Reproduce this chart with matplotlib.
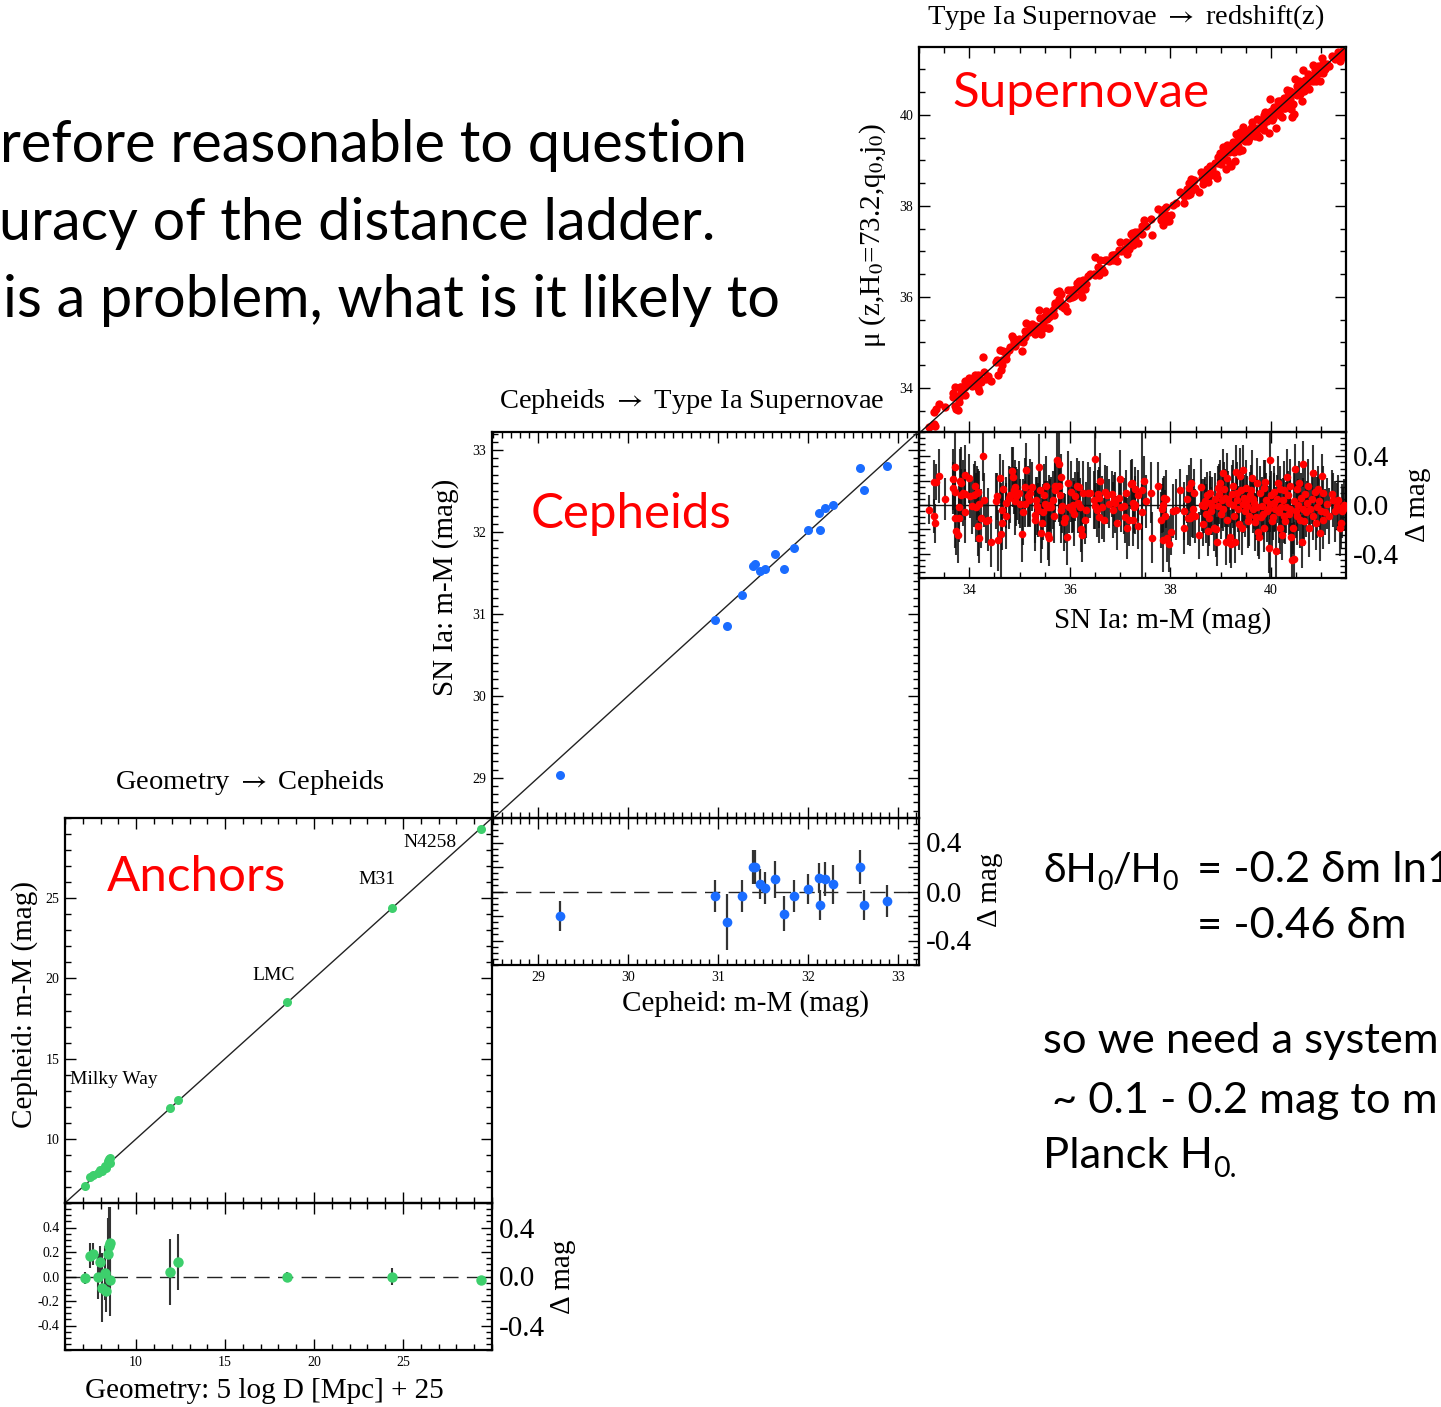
import matplotlib
matplotlib.use("Agg")
import matplotlib.pyplot as plt
from matplotlib.ticker import MultipleLocator, FixedLocator, FormatStrFormatter
import numpy as np

W, H = 1441, 1407
SERIF = ['Liberation Serif', 'DejaVu Serif']
SANS = ['Lato', 'Noto Sans', 'DejaVu Sans']

plt.rcParams['font.family'] = SERIF
plt.rcParams['axes.unicode_minus'] = False
plt.rcParams['mathtext.fontset'] = 'stix'

# ---- rung 1: geometric anchors (5 log D + 25) and Cepheid residuals ----
anchor_geo = [7.10, 7.42, 7.55, 7.85, 7.95, 8.10, 8.25, 8.30, 8.42, 8.50,
              8.55, 8.55, 11.88, 12.33, 18.50, 24.36, 29.37]
anchor_resid = [-0.01, 0.17, 0.18, 0.00, 0.12, -0.09, 0.03, -0.12, 0.18, 0.25,
                0.27, -0.03, 0.04, 0.12, 0.00, 0.00, -0.03]
anchor_err = [0.05, 0.10, 0.09, 0.18, 0.13, 0.28, 0.22, 0.17, 0.30, 0.32,
              0.30, 0.29, 0.27, 0.23, 0.04, 0.07, 0.03]
anchor_names = ['Milky Way', 'LMC', 'M31', 'N4258']

# ---- rung 2: Cepheid distance vs SN Ia distance in the calibrator hosts ----
ceph_mu = [29.24, 30.97, 31.10, 31.27, 31.39, 31.41, 31.46, 31.52, 31.63, 31.73,
           31.84, 32.00, 32.12, 32.13, 32.19, 32.27, 32.58, 32.62, 32.88]
ceph_sn_mu = [29.04, 30.93, 30.85, 31.23, 31.59, 31.61, 31.52, 31.55, 31.73, 31.55,
              31.80, 32.02, 32.23, 32.02, 32.29, 32.33, 32.78, 32.51, 32.80]
ceph_err = [0.12, 0.13, 0.23, 0.13, 0.14, 0.14, 0.12, 0.13, 0.15, 0.14,
            0.13, 0.12, 0.125, 0.12, 0.14, 0.16, 0.14, 0.12, 0.13]

# ---- rung 3: Hubble-flow SNe Ia ----
sn_mu = np.array([
    33.19, 33.29, 33.31, 33.29, 33.34, 33.40, 33.52, 33.67, 33.71, 33.67,
    33.72, 33.71, 33.74, 33.77, 33.79, 33.82, 33.84, 33.84, 33.87, 33.80,
    33.91, 33.92, 33.91, 33.99, 34.02, 34.05, 34.09, 34.12, 34.13, 34.15,
    34.17, 34.17, 34.19, 34.20, 34.24, 34.28, 34.30, 34.33, 34.37, 34.44,
    34.53, 34.55, 34.57, 34.62, 34.64, 34.65, 34.66, 34.68, 34.72, 34.73,
    34.78, 34.81, 34.85, 34.86, 34.88, 34.90, 34.91, 34.93, 34.95, 34.98,
    35.01, 35.05, 35.06, 35.10, 35.11, 35.13, 35.17, 35.19, 35.21, 35.25,
    35.30, 35.31, 35.32, 35.34, 35.36, 35.39, 35.41, 35.42, 35.44, 35.46,
    35.48, 35.50, 35.52, 35.54, 35.56, 35.58, 35.59, 35.61, 35.63, 35.66,
    35.68, 35.70, 35.71, 35.74, 35.79, 35.79, 35.81, 35.83, 35.83, 35.85,
    35.89, 35.91, 35.94, 35.97, 35.99, 36.03, 36.04, 36.07, 36.09, 36.11,
    36.14, 36.16, 36.19, 36.21, 36.23, 36.24, 36.27, 36.30, 36.32, 36.36,
    36.40, 36.47, 36.49, 36.50, 36.54, 36.56, 36.57, 36.60, 36.58, 36.64,
    36.67, 36.70, 36.74, 36.77, 36.83, 36.85, 36.87, 36.90, 36.93, 36.97,
    37.00, 37.02, 37.07, 37.10, 37.11, 37.13, 37.17, 37.22, 37.25, 37.28,
    37.23, 37.25, 37.30, 37.30, 37.35, 37.35, 37.43, 37.43, 37.48, 37.52,
    37.61, 37.63, 37.76, 37.81, 37.83, 37.85, 37.86, 37.88, 37.90, 37.92,
    37.94, 37.98, 38.01, 38.06, 38.11, 38.18, 38.26, 38.27, 38.33, 38.34,
    38.36, 38.38, 38.41, 38.43, 38.45, 38.46, 38.49, 38.56, 38.60, 38.62,
    38.64, 38.66, 38.69, 38.71, 38.72, 38.74, 38.76, 38.78, 38.79, 38.80,
    38.82, 38.86, 38.89, 38.91, 38.92, 38.94, 38.95, 38.97, 38.99, 39.00,
    39.02, 39.04, 39.05, 39.07, 39.09, 39.11, 39.12, 39.13, 39.15, 39.17,
    39.19, 39.20, 39.22, 39.24, 39.25, 39.27, 39.29, 39.31, 39.32, 39.33,
    39.35, 39.37, 39.39, 39.40, 39.42, 39.44, 39.45, 39.46, 39.48, 39.50,
    39.52, 39.53, 39.55, 39.57, 39.58, 39.60, 39.62, 39.64, 39.65, 39.66,
    39.68, 39.70, 39.72, 39.73, 39.75, 39.77, 39.78, 39.80, 39.82, 39.84,
    39.85, 39.86, 39.88, 39.90, 39.92, 39.93, 39.95, 39.97, 39.98, 40.00,
    40.01, 40.03, 40.05, 40.06, 40.08, 40.10, 40.11, 40.13, 40.15, 40.17,
    40.18, 40.19, 40.21, 40.23, 40.25, 40.26, 40.28, 40.30, 40.31, 40.33,
    40.35, 40.37, 40.38, 40.39, 40.41, 40.43, 40.45, 40.46, 40.48, 40.50,
    40.51, 40.52, 40.54, 40.56, 40.58, 40.59, 40.61, 40.63, 40.64, 40.66,
    40.68, 40.70, 40.71, 40.74, 40.76, 40.78, 40.81, 40.83, 40.84, 40.88,
    40.90, 40.91, 40.94, 40.96, 40.97, 40.99, 41.01, 41.03, 41.04, 41.07,
    41.11, 41.16, 41.21, 41.24, 41.27, 41.31, 41.34, 41.37, 41.39, 41.41,
    41.44, 41.46,
])
sn_resid = np.array([
    -0.04, -0.09, -0.15, 0.19, 0.19, 0.24, 0.05, 0.21, 0.31, 0.14,
    0.11, -0.11, -0.21, -0.25, -0.02, 0.20, 0.18, 0.08, 0.10, -0.11,
    0.25, 0.09, -0.06, 0.22, 0.07, -0.01, 0.08, 0.16, -0.02, 0.10,
    0.11, -0.17, -0.27, 0.01, -0.11, 0.40, 0.04, -0.13, -0.12, -0.30,
    0.03, 0.07, -0.29, 0.22, -0.24, -0.15, -0.04, 0.13, -0.09, 0.02,
    0.06, 0.08, 0.28, 0.23, 0.12, 0.03, 0.15, 0.07, 0.09, 0.10,
    0.01, -0.24, -0.06, 0.01, 0.15, 0.29, 0.07, 0.04, 0.10, 0.15,
    -0.08, -0.12, 0.04, -0.01, -0.04, 0.31, 0.12, -0.23, -0.15, -0.06,
    0.08, 0.01, 0.16, -0.02, -0.25, -0.02, -0.27, 0.00, -0.02, 0.04,
    -0.09, 0.12, 0.16, 0.37, 0.34, 0.16, 0.08, 0.23, -0.04, -0.01,
    -0.14, -0.11, -0.26, 0.18, -0.02, 0.11, -0.04, 0.00, -0.07, 0.07,
    0.16, 0.02, 0.15, -0.02, -0.20, -0.25, 0.10, -0.12, -0.04, 0.10,
    0.10, 0.04, 0.38, -0.01, -0.04, 0.09, 0.06, 0.20, -0.10, -0.02,
    -0.12, 0.11, 0.08, 0.01, 0.09, -0.04, 0.04, 0.02, -0.15, 0.06,
    0.21, -0.02, -0.01, -0.10, 0.10, -0.19, -0.12, 0.17, 0.02, -0.02,
    0.18, -0.12, 0.13, 0.00, 0.08, -0.17, 0.12, -0.06, 0.20, 0.03,
    0.10, -0.27, 0.16, -0.12, -0.03, 0.00, -0.29, 0.06, -0.09, 0.05,
    -0.27, -0.32, -0.22, -0.05, -0.04, 0.12, -0.19, -0.05, 0.05, -0.11,
    0.14, -0.11, 0.18, -0.08, -0.03, 0.10, -0.09, -0.25, 0.15, 0.00,
    -0.16, -0.01, 0.03, -0.07, 0.08, -0.21, -0.11, 0.10, 0.02, -0.05,
    -0.01, -0.19, 0.05, -0.20, -0.30, 0.14, -0.01, 0.09, 0.18, -0.07,
    0.04, 0.26, -0.03, 0.13, 0.06, -0.30, 0.22, -0.12, 0.05, 0.02,
    -0.26, -0.32, 0.09, 0.00, 0.16, -0.09, -0.30, 0.27, 0.04, 0.10,
    -0.03, -0.16, 0.24, 0.12, -0.19, 0.29, 0.01, 0.06, -0.05, 0.14,
    0.04, -0.01, -0.13, -0.09, 0.08, 0.12, 0.22, -0.03, 0.05, 0.02,
    -0.14, -0.10, 0.18, -0.02, -0.22, -0.26, 0.10, -0.10, -0.01, -0.07,
    0.14, -0.19, 0.19, 0.04, -0.05, -0.03, -0.35, 0.01, 0.37, 0.08,
    -0.13, -0.10, 0.02, 0.11, -0.03, -0.38, 0.05, 0.18, -0.06, 0.13,
    -0.19, -0.02, -0.25, 0.04, -0.09, 0.12, -0.13, -0.02, 0.23, 0.08,
    -0.07, 0.16, -0.03, -0.26, -0.45, -0.19, 0.03, -0.44, 0.30, -0.05,
    0.13, -0.09, 0.00, 0.18, -0.12, 0.06, -0.30, -0.03, 0.34, -0.13,
    0.09, -0.06, 0.02, 0.16, -0.19, -0.03, 0.05, 0.26, -0.09, 0.11,
    -0.15, -0.02, 0.13, 0.03, -0.23, -0.05, 0.24, 0.10, -0.12, -0.06,
    0.01, -0.09, 0.09, 0.04, -0.05, -0.01, 0.04, -0.19, -0.15, -0.05,
    -0.03, 0.00,
])
sn_err = np.array([
    0.12, 0.14, 0.16, 0.18, 0.15, 0.22, 0.17, 0.25, 0.28, 0.21,
    0.19, 0.24, 0.20, 0.23, 0.18, 0.26, 0.30, 0.22, 0.27, 0.19,
    0.24, 0.21, 0.25, 0.20, 0.18, 0.23, 0.26, 0.20, 0.28, 0.22,
    0.19, 0.25, 0.21, 0.27, 0.24, 0.20, 0.22, 0.18, 0.26, 0.21,
    0.23, 0.19, 0.25, 0.20, 0.42, 0.22, 0.18, 0.24, 0.27, 0.21,
    0.26, 0.23, 0.20, 0.25, 0.19, 0.28, 0.22, 0.24, 0.21, 0.26,
    0.20, 0.23, 0.27, 0.19, 0.24, 0.22, 0.25, 0.21, 0.28, 0.20,
    0.23, 0.26, 0.19, 0.24, 0.22, 0.27, 0.20, 0.25, 0.21, 0.23,
    0.26, 0.19, 0.24, 0.22, 0.20, 0.27, 0.23, 0.21, 0.25, 0.24,
    0.22, 0.26, 0.20, 0.23, 0.48, 0.21, 0.25, 0.19, 0.27, 0.22,
    0.24, 0.20, 0.23, 0.26, 0.21, 0.25, 0.19, 0.22, 0.27, 0.20,
    0.23, 0.25, 0.21, 0.24, 0.19, 0.22, 0.26, 0.20, 0.23, 0.25,
    0.21, 0.24, 0.27, 0.19, 0.22, 0.20, 0.25, 0.23, 0.21, 0.26,
    0.18, 0.22, 0.24, 0.20, 0.19, 0.23, 0.21, 0.25, 0.22, 0.18,
    0.24, 0.20, 0.23, 0.21, 0.19, 0.25, 0.22, 0.20, 0.18, 0.21,
    0.20, 0.22, 0.18, 0.24, 0.21, 0.19, 0.95, 0.23, 0.20, 0.22,
    0.25, 0.21, 0.19, 0.23, 0.20, 0.22, 0.26, 0.18, 0.21, 0.24,
    0.20, 0.23, 0.19, 0.22, 0.25, 0.18, 0.21, 0.24, 0.20, 0.22,
    0.19, 0.23, 0.21, 0.18, 0.24, 0.20, 0.22, 0.19, 0.23, 0.21,
    0.18, 0.22, 0.20, 0.24, 0.19, 0.21, 0.23, 0.18, 0.22, 0.20,
    0.24, 0.19, 0.21, 0.23, 0.20, 0.18, 0.22, 0.25, 0.19, 0.21,
    0.23, 0.20, 0.18, 0.22, 0.24, 0.19, 0.21, 0.20, 0.23, 0.18,
    0.22, 0.20, 0.24, 0.19, 0.21, 0.23, 0.18, 0.22, 0.20, 0.25,
    0.19, 0.21, 0.23, 0.18, 0.22, 0.20, 0.24, 0.19, 0.21, 0.23,
    0.20, 0.18, 0.22, 0.25, 0.19, 0.21, 0.23, 0.20, 0.18, 0.22,
    0.24, 0.19, 0.21, 0.23, 0.20, 0.18, 0.22, 0.19, 0.24, 0.21,
    0.23, 0.20, 0.18, 0.22, 0.25, 0.19, 0.21, 0.23, 1.00, 0.20,
    0.22, 0.19, 0.24, 0.21, 0.18, 0.23, 0.20, 0.22, 0.25, 0.19,
    0.21, 0.23, 0.20, 0.18, 0.22, 0.24, 0.19, 0.21, 0.23, 0.20,
    0.18, 0.22, 0.25, 0.19, 0.30, 0.21, 0.23, 0.30, 0.20, 0.22,
    0.19, 0.24, 0.21, 0.18, 0.23, 0.20, 0.22, 0.25, 0.19, 0.21,
    0.23, 0.20, 0.18, 0.22, 0.24, 0.19, 0.21, 0.23, 0.20, 0.18,
    0.22, 0.25, 0.19, 0.21, 0.23, 0.20, 0.18, 0.22, 0.24, 0.19,
    0.21, 0.23, 0.20, 0.22, 0.25, 0.19, 0.21, 0.23, 0.20, 0.22,
    0.18, 0.21,
])
assert len(sn_mu) == len(sn_resid) == len(sn_err)

RED = '#ff0000'
BLUE = '#1a6cff'
GREEN = '#3dcf6c'

fig = plt.figure(figsize=(W / 100, H / 100), dpi=100)


def box(x0, y0, x1, y1):
    """Axes rectangle from pixel corners (origin top-left)."""
    return [x0 / W, 1 - y1 / H, (x1 - x0) / W, (y1 - y0) / H]


def at(x, y):
    return x / W, 1 - y / H


def panel(rect, xlim, ylim, xmajor, xminor, ymajor, yminor):
    ax = fig.add_axes(box(*rect))
    ax.set_facecolor('none')
    ax.set_xlim(xlim)
    ax.set_ylim(ylim)
    ax.xaxis.set_major_locator(FixedLocator(xmajor))
    ax.xaxis.set_minor_locator(MultipleLocator(xminor))
    ax.yaxis.set_major_locator(FixedLocator(ymajor))
    ax.yaxis.set_minor_locator(MultipleLocator(yminor))
    ax.tick_params(which='both', direction='in', top=True, right=True,
                   width=1.0, labelsize=10, pad=4)
    ax.tick_params(which='major', length=8)
    ax.tick_params(which='minor', length=4)
    for sp in ax.spines.values():
        sp.set_linewidth(1.6)
    return ax


def big_right_labels(ax):
    sec = ax.secondary_yaxis('right')
    sec.set_yticks([-0.4, 0.0, 0.4], labels=['-0.4', '0.0', '0.4'])
    sec.tick_params(which='both', length=0, labelsize=21, pad=5)
    sec.spines['right'].set_visible(False)


RES_TICKS = [-0.4, -0.2, 0.0, 0.2, 0.4]
RES_LIM = (-0.6, 0.6)

# ---------------- Geometry -> Cepheids ----------------
ax_a = panel((65, 818, 492, 1203), (6, 30), (6, 30), [10, 15, 20, 25], 1, [10, 15, 20, 25], 1)
ax_a.tick_params(labelbottom=False)
ax_a.yaxis.set_major_formatter(FormatStrFormatter('%d'))
geo = np.array(anchor_geo)
ax_a.axline((10, 10), slope=1, color='#222222', lw=1.0, zorder=2)
ax_a.plot(geo, geo + np.array(anchor_resid), 'o', color=GREEN, ms=6.5, mec='none', zorder=3)
name_xy = [(6.28, 13.42), (16.51, 19.90), (22.47, 25.89), (25.0, 28.19)]
for name, (tx, ty) in zip(anchor_names, name_xy):
    ax_a.text(tx, ty, name, fontsize=14, ha='left', va='baseline')

ax_ar = panel((65, 1203, 492, 1350), (6, 30), RES_LIM, [10, 15, 20, 25], 1, RES_TICKS, 0.05)
ax_ar.xaxis.set_major_formatter(FormatStrFormatter('%d'))
ax_ar.yaxis.set_major_formatter(FormatStrFormatter('%.1f'))
ax_ar.axhline(0, color='#222222', lw=1.0, ls=(0, (11, 6)), zorder=1)
ax_ar.errorbar(anchor_geo, anchor_resid, yerr=anchor_err, fmt='o', color=GREEN, ms=7.5,
               mec='none', ecolor='#333333', elinewidth=1.5, capsize=0, zorder=3)
big_right_labels(ax_ar)

# ---------------- Cepheids -> SN Ia ----------------
ax_c = panel((492, 432, 919, 818), (28.49, 33.23), (28.51, 33.22),
             [29, 30, 31, 32, 33], 0.1, [29, 30, 31, 32, 33], 0.1)
ax_c.tick_params(labelbottom=False)
ax_c.yaxis.set_major_formatter(FormatStrFormatter('%d'))
ax_c.axline((30, 30), slope=1, color='#222222', lw=1.0, zorder=2)
ax_c.plot(ceph_mu, ceph_sn_mu, 'o', color=BLUE, ms=6.5, mec='none', zorder=3)

ax_cr = panel((492, 818, 919, 965), (28.49, 33.23), RES_LIM,
              [29, 30, 31, 32, 33], 0.1, RES_TICKS, 0.05)
ax_cr.tick_params(labelleft=False)
ax_cr.xaxis.set_major_formatter(FormatStrFormatter('%d'))
ax_cr.axhline(0, color='#222222', lw=1.0, ls=(0, (11, 6)), zorder=1)
ceph_resid = np.array(ceph_sn_mu) - np.array(ceph_mu)
ax_cr.errorbar(ceph_mu, ceph_resid, yerr=ceph_err, fmt='o', color=BLUE, ms=7,
               mec='none', ecolor='#333333', elinewidth=1.6, capsize=0, zorder=3)
big_right_labels(ax_cr)

# ---------------- SN Ia -> redshift ----------------
ax_s = panel((919, 47, 1346, 432), (33.0, 41.49), (33.03, 41.49),
             [34, 36, 38, 40], 0.5, [34, 36, 38, 40], 0.5)
ax_s.tick_params(labelbottom=False)
ax_s.yaxis.set_major_formatter(FormatStrFormatter('%d'))
ax_s.plot(sn_mu, sn_mu + sn_resid, 'o', color=RED, ms=6, mec='none', zorder=2)
ax_s.axline((36, 36), slope=1, color='#111111', lw=1.0, zorder=3)

ax_sr = panel((919, 432, 1346, 578), (33.0, 41.49), RES_LIM,
              [34, 36, 38, 40], 0.5, RES_TICKS, 0.05)
ax_sr.tick_params(labelleft=False)
ax_sr.xaxis.set_major_formatter(FormatStrFormatter('%d'))
ax_sr.axhline(0, color='#111111', lw=1.0, zorder=1)
ax_sr.vlines(sn_mu, sn_resid - sn_err, sn_resid + sn_err, color='#111111',
             lw=1.5, alpha=0.85, zorder=2)
ax_sr.plot(sn_mu, sn_resid, 'o', color=RED, ms=5.5, mec='none', zorder=3)
big_right_labels(ax_sr)

# ---------------- titles and axis labels ----------------
TS = 20.5
LS = 21
ARROW = r' $\rightarrow$ '
fig.text(*at(1126, 17), 'Type Ia Supernovae' + ARROW + 'redshift(z)', fontsize=TS, ha='center', va='center')
fig.text(*at(692, 401), 'Cepheids' + ARROW + 'Type Ia Supernovae', fontsize=TS, ha='center', va='center')
fig.text(*at(250, 782), 'Geometry' + ARROW + 'Cepheids', fontsize=TS, ha='center', va='center')

fig.text(*at(1163, 621), 'SN Ia: m-M (mag)', fontsize=LS, ha='center', va='center')
fig.text(*at(745, 1004), 'Cepheid: m-M (mag)', fontsize=LS, ha='center', va='center')
fig.text(*at(264, 1391), 'Geometry: 5 log D [Mpc] + 25', fontsize=LS, ha='center', va='center')
fig.text(*at(25, 1004), 'Cepheid: m-M (mag)', fontsize=LS, rotation=90, ha='center', va='center')
fig.text(*at(446, 587), 'SN Ia: m-M (mag)', fontsize=LS, rotation=90, ha='center', va='center')
fig.text(*at(873, 236), 'μ (z,H$_0$=73.2,q$_0$,j$_0$)', fontsize=LS, rotation=90,
         ha='center', va='center')
for cx, cy in [(1418, 505), (990, 890), (563, 1277)]:
    fig.text(*at(cx, cy), 'Δ mag', fontsize=LS, rotation=90, ha='center', va='center')

# red rung names
NS = 35.5
fig.text(*at(952, 107), 'Supernovae', color=RED, fontsize=NS, family=SANS, va='baseline')
fig.text(*at(531, 528), 'Cepheids', color=RED, fontsize=NS, family=SANS, va='baseline')
fig.text(*at(107, 891), 'Anchors', color=RED, fontsize=NS, family=SANS, va='baseline')

# ---------------- slide text ----------------
BODY = 41.5
fig.text(*at(0, 162), 'refore reasonable to question', fontsize=BODY, family=SANS, va='baseline')
fig.text(*at(-1, 240), 'uracy of the distance ladder.', fontsize=BODY, family=SANS, va='baseline')
fig.text(*at(3, 317), 'is a problem, what is it likely to', fontsize=BODY, family=SANS, va='baseline')

renderer = fig.canvas.get_renderer()


def rich_text(x, y, parts, size):
    """Left-to-right text runs in pixel units; flagged runs are subscripts."""
    for s, sub in parts:
        fs = size * 0.66 if sub else size
        dy = 0.2 * size * 100 / 72 if sub else 0
        t = fig.text(*at(x, y + dy), s, fontsize=fs, family=SANS, va='baseline', ha='left')
        x += t.get_window_extent(renderer).width


RS = 31.3
rich_text(1043, 882, [('δH', False), ('0', True), ('/H', False), ('0', True)], 29.5)
fig.text(*at(1197, 882), '= -0.2 δm ln1', fontsize=RS, family=SANS, va='baseline')
fig.text(*at(1197, 938), '= -0.46 δm', fontsize=RS, family=SANS, va='baseline')
fig.text(*at(1043, 1053), 'so we need a system', fontsize=RS, family=SANS, va='baseline')
fig.text(*at(1052, 1113), '~ 0.1 - 0.2 mag to m', fontsize=RS, family=SANS, va='baseline')
rich_text(1043, 1168, [('Planck H', False), ('0.', True)], RS)

fig.savefig('out.png', dpi=100)
